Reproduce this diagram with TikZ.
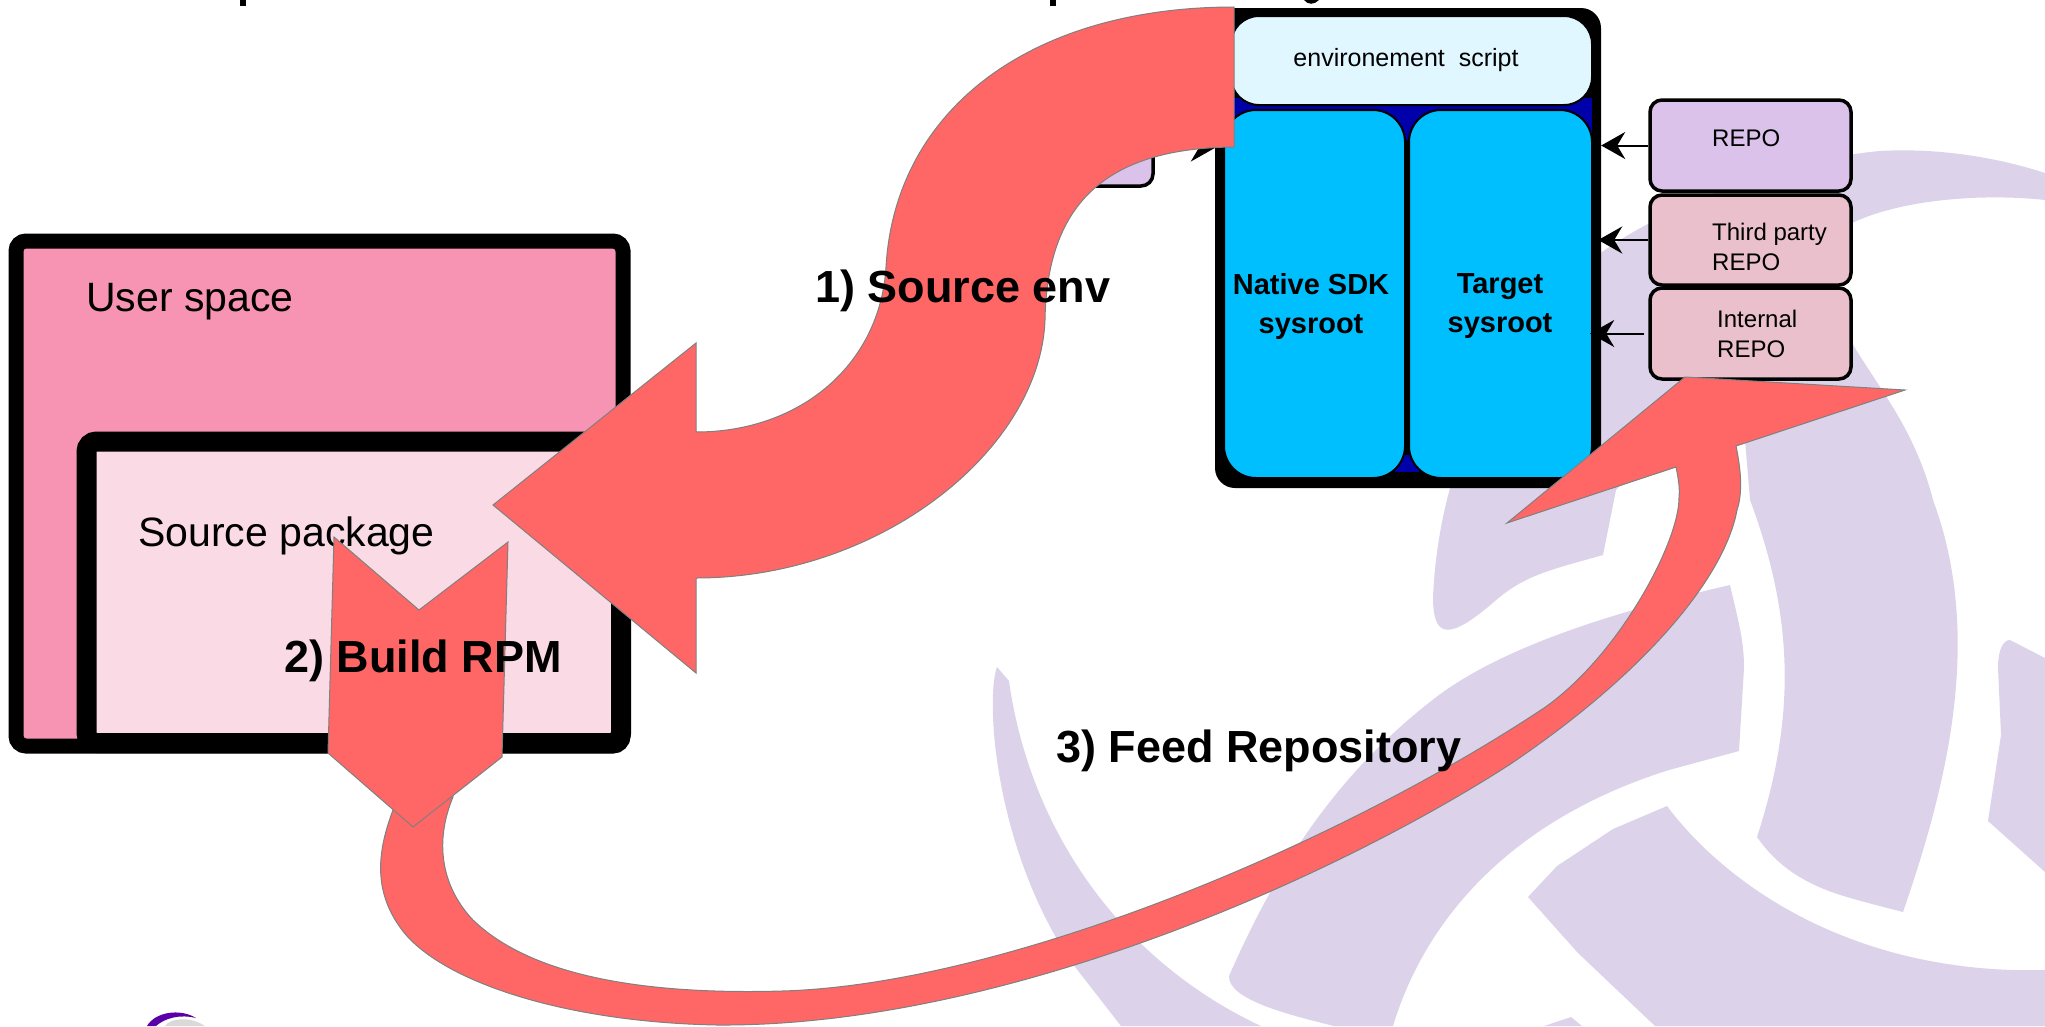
\documentclass[tikz,border=0pt]{standalone}
\usepackage{fontspec}
\setmainfont{Liberation Sans}
\usetikzlibrary{arrows.meta}
\definecolor{logolilac}{HTML}{DCD3EA}
\definecolor{redarrow}{HTML}{FF6666}
\definecolor{skyfill}{HTML}{00BFFF}
\definecolor{deepblue}{HTML}{0000AA}
\definecolor{scriptfill}{HTML}{E0F7FF}
\definecolor{userfill}{HTML}{F794B3}
\definecolor{srcfill}{HTML}{FADAE4}
\definecolor{repofill}{HTML}{DBC2EA}
\definecolor{extfill}{HTML}{E9C0CB}
\tikzstyle{logo} = [fill=logolilac, draw=none]
\tikzstyle{bigarrow} = [fill=redarrow, draw=gray, line width=1pt, line join=miter]
\tikzstyle{frame} = [rectangle, draw=black, inner sep=0pt]
\tikzstyle{sysroot} = [rectangle, draw=black, line width=2pt, fill=skyfill, inner sep=0pt, rounded corners=32pt]
\tikzstyle{repobox} = [rectangle, draw=black, line width=3.5pt, inner sep=0pt, rounded corners=12pt, minimum width=201pt, minimum height=90pt]
\tikzstyle{small} = [font=\fontsize{24}{30}\selectfont, align=left, anchor=west, inner sep=0pt]
\tikzstyle{boxtitle} = [font=\fontsize{41}{48}\selectfont, anchor=west, inner sep=0pt]
\tikzstyle{steplabel} = [font=\fontsize{45}{54}\selectfont\bfseries, anchor=west, inner sep=0pt]
\tikzstyle{rootlabel} = [font=\fontsize{29}{39}\selectfont\bfseries, align=center, inner sep=0pt]
\tikzstyle{line} = [draw, line width=2pt, -{Stealth[length=24pt,width=27pt,inset=8pt]}]

\begin{document}
\begin{tikzpicture}[x=1pt, y=-1pt]
	\path[use as bounding box, clip] (0,0) rectangle (2045,1026);
	\fill[white] (0,0) rectangle (2045,1026);
	% Background logo
	\path[logo] (2045,173) .. controls (1990,155) and (1930,148) .. (1880,151) .. controls (1780,160) and (1660,210) .. (1602,252)
		.. controls (1520,310) and (1440,440) .. (1433,597)
		.. controls (1433,640) and (1450,640) .. (1495,601) .. controls (1525,575) and (1550,570) .. (1603,555) -- (1616,490) -- (1660,440) -- (1745,440)
		-- (1750,500) .. controls (1795,620) and (1795,720) .. (1757,837) .. controls (1790,885) and (1840,895) .. (1872,904) -- (1903,912)
		.. controls (1945,790) and (1985,640) .. (1933,500) .. controls (1915,430) and (1880,390) .. (1852,343)
		.. controls (1820,290) and (1815,250) .. (1852,223) .. controls (1900,200) and (1980,193) .. (2045,200) -- cycle;
	\path[logo] (1730,585) .. controls (1600,615) and (1500,650) .. (1439,695) .. controls (1340,770) and (1280,860) .. (1229,976)
		.. controls (1228,1000) and (1290,1015) .. (1334,1026) -- (1393,1026)
		.. controls (1425,920) and (1510,820) .. (1669,770) -- (1739,751) -- (1744,668) .. controls (1744,640) and (1738,620) .. (1730,585) -- cycle;
	\path[logo] (997,667) .. controls (985,700) and (995,850) .. (1072,963) -- (1121,1026) -- (1261,1026)
		.. controls (1120,960) and (1030,830) .. (1009,681) -- cycle;
	\path[logo] (1667,806) .. controls (1730,890) and (1860,975) .. (2045,970) -- (2045,1026) -- (1655,1026)
		-- (1578,953) -- (1528,897) -- (1557,866) -- (1613,829) -- cycle;
	\path[logo] (1571,1017) -- (1582,1026) -- (1544,1026) -- cycle;
	\path[logo] (2010,640) -- (2045,658) -- (2045,872) -- (1988,821) -- (2001,735) -- (1998,668) .. controls (1998,650) and (2003,640) .. (2010,640) -- cycle;
	% Remains of the page title and logo
	\fill[black] (240,0) rectangle (246,6);
	\fill[black] (1050,0) rectangle (1056,6);
	\fill[black] (1304,0) .. controls (1308,5) and (1314,5) .. (1319,0) -- cycle;
	\fill[gray!30] (165,1026) .. controls (170,1018) and (190,1016) .. (205,1026) -- cycle;
	\fill[violet!70!blue] (147,1026) .. controls (155,1012) and (180,1008) .. (196,1018) .. controls (180,1014) and (165,1018) .. (156,1026) -- cycle;
	% Place nodes
	\node [frame, line width=15pt, fill=userfill, rounded corners=10pt, minimum width=607pt, minimum height=505pt] (user) at (319.5,493.5) {};
	\node [frame, line width=20pt, fill=srcfill, rounded corners=10pt, minimum width=534.5pt, minimum height=301.5pt] (source) at (353.75,592.25) {};
	\node [boxtitle] (usertxt) at (86,302) {User space};
	\node [boxtitle] (sourcetxt) at (138,536) {Source package};
	\node [frame, draw=none, fill=black, rounded corners=20pt, minimum width=386pt, minimum height=480pt] (sdk) at (1408,248) {};
	\fill[deepblue] (1224,98) rectangle (1592,140);
	\fill[deepblue] (1395,455) rectangle (1419,472);
	\node [frame, line width=2pt, fill=scriptfill, rounded corners=28pt, minimum width=361pt, minimum height=89pt] (script) at (1411.5,60.5) {};
	\node [font=\fontsize{25}{30}\selectfont, inner sep=0pt] (scripttxt) at (1406,60) {environement\ \ script};
	\node [sysroot, minimum width=181pt, minimum height=368pt] (native) at (1314.5,294) {};
	\node [sysroot, minimum width=183pt, minimum height=368pt] (target) at (1500.5,294) {};
	\node [rootlabel] (nativetxt) at (1311,306) {Native SDK\\sysroot};
	\node [rootlabel] (targettxt) at (1500,306) {Target\\sysroot};
	\node [repobox, fill=repofill, minimum width=113pt, minimum height=76pt] (hidden) at (1096.5,148) {};
	\node [repobox, fill=repofill, minimum height=91pt] (repo) at (1750.5,145.5) {};
	\node [repobox, fill=extfill] (third) at (1750.5,240) {};
	\node [repobox, fill=extfill, minimum height=91pt] (internal) at (1750.5,333.5) {};
	\node [small] (repotxt) at (1712,138) {REPO};
	\node [small] (thirdtxt) at (1712,247) {Third party\\REPO};
	\node [small] (internaltxt) at (1717,334) {Internal\\REPO};
	% Draw edges
	\path [line] (repo.west) -- (repo.west -| sdk.east);
	\path [line] (third.west) -- ([xshift=-3pt]third.west -| sdk.east);
	\path [line] ([xshift=-4pt]internal.west) -- ([xshift=-11pt]internal.west -| sdk.east);
	\path [line] (hidden.east) -- (hidden.east -| sdk.west);
	% Big arrows
	\path[bigarrow] (453,797) .. controls (435,840) and (440,885) .. (473,920) .. controls (530,975) and (640,995) .. (782,991)
		.. controls (1000,985) and (1330,850) .. (1544,708) .. controls (1620,655) and (1680,540) .. (1679,497) .. controls (1680,487) and (1678,477) .. (1676,467)
		-- (1507,523) -- (1685,377) -- (1905,390) -- (1736,446)
		.. controls (1742,475) and (1742,495) .. (1737,510) .. controls (1725,575) and (1650,670) .. (1509,765)
		.. controls (1330,880) and (1000,1027) .. (717,1025) .. controls (560,1022) and (440,980) .. (402,930)
		.. controls (372,890) and (378,850) .. (393,810) -- cycle;
	\path[bigarrow] (1234,7) .. controls (1030,7) and (895,110) .. (886,267) .. controls (880,365) and (800,432) .. (696,432)
		-- (696,343) -- (493,505) -- (696,673) -- (696,578)
		.. controls (880,578) and (1040,450) .. (1045,320) .. controls (1047,200) and (1110,148) .. (1234,147) -- cycle;
	\path[bigarrow] (334,537) -- (419,610) -- (508,542) -- (502,757) -- (413,827) -- (328,753) -- cycle;
	% Step labels
	\node [steplabel] (sourceenv) at (815,291) {1) Source env};
	\node [steplabel] (buildrpm) at (284,661) {2) Build RPM};
	\node [steplabel] (feedrepo) at (1056,751) {3) Feed Repository};
\end{tikzpicture}
\end{document}
